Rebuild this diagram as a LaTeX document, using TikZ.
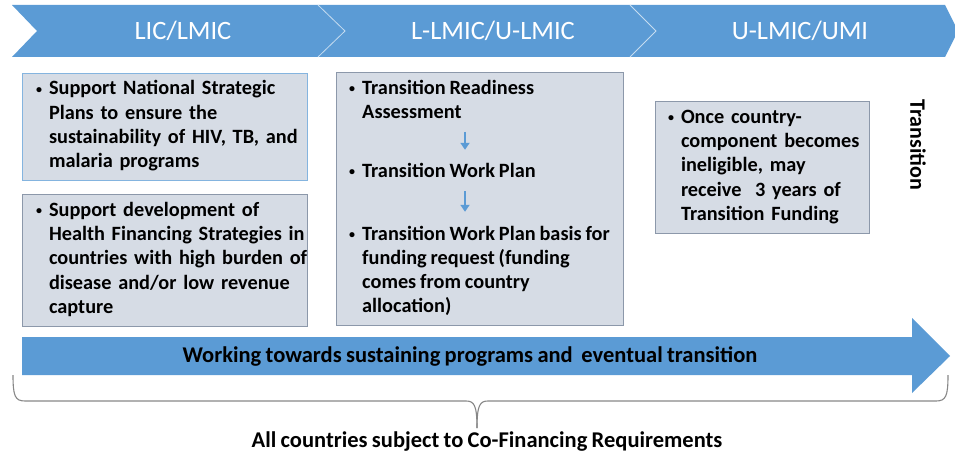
\documentclass[tikz,border=0pt]{standalone}
\usepackage{fontspec}
\setmainfont{Carlito}[WordSpace=0.85]
\usetikzlibrary{positioning,arrows.meta}
\definecolor{bandblue}{RGB}{91,155,213}
\definecolor{boxfill}{RGB}{214,220,229}
\definecolor{boxline}{RGB}{140,152,170}
\definecolor{bracegrey}{RGB}{135,135,135}

\newcommand{\bodyfont}{\fontsize{20.3}{24.3}\selectfont\bfseries}
\newcommand{\bitem}[1]{\makebox[14pt][l]{\hspace{1pt}\raisebox{1.5pt}{\fontsize{12}{12}\selectfont\textbullet}}\begin{tabular}[t]{@{}l@{}}#1\end{tabular}}

\begin{document}
\begin{tikzpicture}[x=1pt, y=-1pt,
  box/.style={draw=boxline, fill=boxfill, line width=1pt, align=left, inner xsep=13pt, inner ysep=0pt, font=\bodyfont},
  itemtext/.style={inner sep=0pt, anchor=base west, font=\bodyfont},
  bandlabel/.style={text=white, font=\fontsize{26.5}{30}\selectfont},
  smallarr/.style={-{Triangle[width=9pt,length=7pt]}, draw=bandblue, line width=2.2pt},
  brace/.style={draw=bracegrey, line width=1.1pt}]
\useasboundingbox (0,0) rectangle (955,460);

% top band with three chevrons
\fill[bandblue] (12,5) -- (945,5) -- (958,31) -- (945,57) -- (12,57) -- (37,31) -- cycle;
\draw[white!65!bandblue, line width=0.8pt] (318,5) -- (345,31) -- (318,57);
\draw[white!65!bandblue, line width=0.8pt] (630,5) -- (656,31) -- (630,57);
\node[bandlabel] (lic) at (183,31) {LIC/LMIC};
\node[bandlabel] (llmic) at (493,31) {L-LMIC/U-LMIC};
\node[bandlabel] (ulmic) at (800,31) {U-LMIC/UMI};

% LIC/LMIC column
\node[box, draw=bandblue!75, text width=259pt, minimum height=107pt] (nsp) at (164.5,126.5)
  {\bitem{Support National Strategic\\Plans to ensure the\\sustainability of HIV, TB, and\\malaria programs}};
\node[box, text width=259pt, minimum height=132pt, below=13pt of nsp] (hfs)
  {\bitem{Support development of\\Health Financing Strategies in\\countries with high burden of\\disease and/or low revenue\\capture}};

% L-LMIC/U-LMIC column
\node[box, minimum width=287pt, minimum height=253pt] (steps) at (479.5,198.5) {};
\node[itemtext] (tra) at (348,94) {\bitem{Transition Readiness\\Assessment}};
\node[itemtext] (twp) at (348,177) {\bitem{Transition Work Plan}};
\node[itemtext] (req) at (348,240) {\bitem{Transition Work Plan basis for\\funding request (funding\\comes from country\\allocation)}};
\draw[smallarr, shorten <=6pt, shorten >=10pt] ([xshift=117pt]tra.south west) -- ([xshift=117pt]twp.north west);
\draw[smallarr, shorten <=7pt, shorten >=11pt] ([xshift=117pt]twp.south west) -- ([xshift=117pt]req.north west);

% U-LMIC/UMI column
\node[box, inner xsep=12pt, text width=190pt, minimum height=132pt] (tf) at (762,167)
  {\bitem{Once country-\\component becomes\\ineligible, may\\receive\ \ 3 years of\\Transition Funding}};
\node[rotate=-90, font=\fontsize{22}{26}\selectfont\bfseries] (trans) at (918,145) {Transition};

% bottom arrow
\fill[bandblue] (22,337) -- (912,337) -- (912,318) -- (950,356) -- (912,393) -- (912,375) -- (22,375) -- cycle;
\node[font=\fontsize{22.5}{26}\selectfont\bfseries] (work) at (470,356) {Working towards sustaining programs and\ \ eventual transition};

% brace
\coordinate (bl) at (13,375);
\coordinate (br) at (948,375);
\coordinate (bm) at (477,428);
\draw[brace] (bl) .. controls (13,396) and (15,401) .. (25,401) -- (466,401) .. controls (474,401) and (477,405) .. (bm);
\draw[brace] (br) .. controls (948,396) and (946,401) .. (936,401) -- (488,401) .. controls (480,401) and (477,405) .. (bm);
\node[font=\fontsize{22.5}{26}\selectfont\bfseries] (cofin) at (487,442) {All countries subject to Co-Financing Requirements};
\end{tikzpicture}
\end{document}
